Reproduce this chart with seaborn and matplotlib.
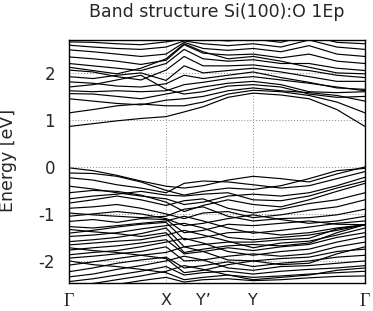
import numpy as np
import pandas as pd
import matplotlib
matplotlib.use("Agg")
import matplotlib.pyplot as plt
import seaborn as sns

# k-path: sample positions (fraction of path length) and high-symmetry labels
K = [0.0, 0.081, 0.162, 0.243, 0.328, 0.389, 0.453, 0.537, 0.622, 0.716, 0.811, 0.905, 1.0]
KLABELS = ["Γ", "X", "Y’", "Y", "Γ"]
KLABEL_POS = [0.0, 0.328, 0.453, 0.622, 1.0]
YTICKS = [-2, -1, 0, 1, 2]

# conduction bands (eV)
CB1 = [0.86, 0.92, 0.98, 1.03, 1.07, 1.17, 1.28, 1.48, 1.57, 1.53, 1.45, 1.22, 0.86]
CB2 = [1.15, 1.22, 1.30, 1.34, 1.30, 1.30, 1.38, 1.55, 1.63, 1.60, 1.52, 1.38, 1.15]
CB3 = [1.45, 1.40, 1.35, 1.32, 1.42, 1.45, 1.50, 1.62, 1.68, 1.62, 1.58, 1.52, 1.40]
CB4 = [1.56, 1.55, 1.50, 1.45, 1.55, 1.62, 1.70, 1.78, 1.82, 1.75, 1.60, 1.58, 1.60]
CB5 = [1.62, 1.60, 1.62, 1.60, 1.62, 1.75, 1.80, 1.88, 1.92, 1.85, 1.78, 1.70, 1.62]
CB6 = [1.81, 1.78, 1.72, 1.70, 1.77, 1.95, 1.88, 1.95, 2.02, 1.90, 1.80, 1.68, 1.65]
CB7 = [1.92, 1.88, 1.95, 2.00, 1.84, 2.15, 2.00, 2.05, 2.10, 2.02, 1.92, 1.82, 1.82]
CB8 = [2.06, 2.02, 1.92, 1.85, 2.06, 2.35, 2.15, 2.15, 2.17, 2.10, 2.05, 1.95, 1.90]
CB9 = [2.20, 2.15, 2.10, 2.05, 2.20, 2.50, 2.30, 2.25, 2.28, 2.20, 2.20, 2.10, 2.05]
CB10 = [2.34, 2.30, 2.25, 2.18, 2.27, 2.60, 2.42, 2.38, 2.40, 2.32, 2.40, 2.25, 2.20]
CB11 = [2.49, 2.45, 2.40, 2.35, 2.40, 2.65, 2.52, 2.48, 2.52, 2.45, 2.58, 2.40, 2.35]
CB12 = [2.59, 2.55, 2.52, 2.50, 2.55, 2.68, 2.62, 2.58, 2.62, 2.55, 2.70, 2.55, 2.50]
CB13 = [2.66, 2.65, 2.62, 2.60, 2.66, 2.72, 2.72, 2.68, 2.72, 2.65, 2.80, 2.65, 2.62]
CB14 = [1.70, 1.75, 1.85, 1.95, 1.65, 1.55, 1.60, 1.72, 1.75, 1.70, 1.55, 1.48, 1.50]
CB15 = [2.12, 2.05, 1.98, 2.10, 2.30, 2.62, 2.45, 2.30, 2.35, 2.25, 2.12, 2.00, 1.98]

# valence bands (eV)
VB1 = [-0.02, -0.08, -0.18, -0.30, -0.41, -0.45, -0.40, -0.28, -0.20, -0.25, -0.32, -0.15, 0.00]
VB2 = [-0.13, -0.14, -0.20, -0.32, -0.50, -0.60, -0.52, -0.45, -0.48, -0.40, -0.25, -0.08, -0.03]
VB3 = [-0.23, -0.28, -0.38, -0.45, -0.55, -0.35, -0.30, -0.32, -0.38, -0.45, -0.40, -0.25, -0.10]
VB4 = [-0.41, -0.47, -0.55, -0.62, -0.68, -0.80, -0.75, -0.62, -0.58, -0.62, -0.55, -0.40, -0.22]
VB5 = [-0.55, -0.50, -0.52, -0.60, -0.75, -0.95, -0.82, -0.70, -0.80, -0.85, -0.70, -0.52, -0.35]
VB6 = [-0.77, -0.70, -0.62, -0.70, -0.82, -0.72, -0.68, -0.88, -0.98, -0.90, -0.78, -0.70, -0.55]
VB7 = [-0.88, -0.85, -0.80, -0.88, -1.00, -1.10, -0.98, -0.95, -1.08, -1.02, -0.92, -0.85, -0.70]
VB8 = [-0.98, -1.02, -1.05, -1.08, -1.05, -0.90, -0.85, -1.05, -1.15, -1.10, -1.08, -1.02, -0.90]
VB9 = [-1.05, -1.00, -0.95, -1.00, -1.10, -1.25, -1.20, -1.10, -1.02, -1.12, -1.20, -1.15, -1.05]
VB10 = [-1.16, -1.12, -1.18, -1.10, -1.12, -1.40, -1.35, -1.22, -1.25, -1.20, -1.15, -1.22, -1.23]
VB11 = [-1.27, -1.30, -1.25, -1.20, -1.15, -1.05, -1.15, -1.30, -1.41, -1.35, -1.28, -1.20, -1.15]
VB12 = [-1.41, -1.35, -1.28, -1.22, -1.18, -1.55, -1.50, -1.40, -1.38, -1.45, -1.40, -1.30, -1.23]
VB13 = [-1.48, -1.45, -1.40, -1.32, -1.25, -1.20, -1.30, -1.50, -1.55, -1.50, -1.45, -1.35, -1.23]
VB14 = [-1.59, -1.55, -1.50, -1.42, -1.30, -1.70, -1.65, -1.60, -1.60, -1.55, -1.52, -1.32, -1.23]
VB15 = [-1.66, -1.62, -1.58, -1.55, -1.45, -1.35, -1.45, -1.58, -1.72, -1.62, -1.58, -1.45, -1.30]
VB16 = [-1.77, -1.72, -1.68, -1.62, -1.55, -1.85, -1.80, -1.72, -1.78, -1.70, -1.65, -1.50, -1.40]
VB17 = [-1.87, -1.82, -1.78, -1.70, -1.60, -1.52, -1.62, -1.80, -1.88, -1.80, -1.75, -1.60, -1.48]
VB18 = [-1.94, -1.90, -1.85, -1.80, -1.70, -2.00, -1.98, -1.90, -1.85, -1.90, -1.85, -1.70, -1.60]
VB19 = [-2.09, -2.02, -1.95, -1.88, -1.82, -1.70, -1.80, -1.98, -2.00, -1.95, -1.92, -1.80, -1.75]
VB20 = [-2.23, -2.15, -2.05, -1.98, -1.92, -2.15, -2.10, -2.02, -2.12, -2.05, -2.00, -1.92, -1.88]
VB21 = [-2.34, -2.28, -2.18, -2.10, -2.00, -1.90, -1.98, -2.15, -2.20, -2.12, -2.10, -2.05, -2.00]
VB22 = [-2.44, -2.38, -2.30, -2.22, -2.12, -2.30, -2.25, -2.22, -2.28, -2.22, -2.18, -2.15, -2.10]
VB23 = [-2.55, -2.48, -2.40, -2.32, -2.22, -2.10, -2.18, -2.30, -2.35, -2.32, -2.28, -2.25, -2.22]
VB24 = [-2.60, -2.55, -2.50, -2.42, -2.35, -2.45, -2.40, -2.38, -2.42, -2.40, -2.36, -2.33, -2.32]
VB25 = [-0.68, -0.62, -0.58, -0.52, -0.60, -0.62, -0.58, -0.55, -0.70, -0.72, -0.62, -0.45, -0.30]
VB26 = [-1.33, -1.38, -1.42, -1.48, -1.40, -1.82, -1.75, -1.68, -1.65, -1.68, -1.62, -1.40, -1.23]
VB27 = [-1.72, -1.78, -1.82, -1.88, -1.95, -2.25, -2.20, -2.08, -2.00, -2.08, -2.05, -1.85, -1.70]
VB28 = [-2.00, -2.08, -2.12, -2.18, -2.25, -2.40, -2.35, -2.30, -2.40, -2.35, -2.30, -2.20, -2.15]

BANDS = [CB1, CB2, CB3, CB4, CB5, CB6, CB7, CB8, CB9, CB10, CB11, CB12, CB13, CB14, CB15,
         VB1, VB2, VB3, VB4, VB5, VB6, VB7, VB8, VB9, VB10, VB11, VB12, VB13, VB14,
         VB15, VB16, VB17, VB18, VB19, VB20, VB21, VB22, VB23, VB24, VB25, VB26,
         VB27, VB28]

rows = []
for i, b in enumerate(BANDS):
    for k, e in zip(K, b):
        rows.append({"band": i, "k": k, "E": e})
df = pd.DataFrame(rows)

sns.set_theme(style="white")
plt.rcParams["font.family"] = ["DejaVu Sans"]

fig = plt.figure(figsize=(3.73, 3.11), dpi=100)
ax = fig.add_axes([69 / 373, 28 / 311, 296 / 373, 243 / 311])

for yv in YTICKS:
    ax.axhline(yv, color="#888888", lw=0.7, ls=(0, (1, 2)), zorder=0)
for xv in KLABEL_POS[1:4:2]:
    ax.axvline(xv, color="#888888", lw=0.7, ls=(0, (1, 2)), zorder=0)

sns.lineplot(data=df, x="k", y="E", units="band", estimator=None,
             color="black", lw=0.85, ax=ax, legend=False, sort=False)

ax.set_xlim(0, 1)
ax.set_ylim(-2.47, 2.7)
ax.set_yticks(YTICKS)
ax.set_yticklabels([str(v) for v in YTICKS], fontsize=12)
ax.set_xticks(KLABEL_POS)
ax.set_xticklabels(KLABELS, fontsize=11.5)
for lab in ax.get_xticklabels():
    if lab.get_text() == "Γ":
        lab.set_family(["Liberation Serif", "DejaVu Serif"])
        lab.set_fontsize(13)
ax.tick_params(axis="both", length=0)
ax.tick_params(axis="x", pad=7)
ax.tick_params(axis="y", pad=10)
ax.set_xlabel("")
ax.set_ylabel("")
for s in ax.spines.values():
    s.set_color("black")
    s.set_linewidth(1.0)

fig.text(8.5 / 373, 1 - 160.5 / 311, "Energy [eV]", rotation=90,
         ha="center", va="center", fontsize=12.5)
fig.text(217 / 373, 1 - 12 / 311, "Band structure Si(100):O 1Ep",
         ha="center", va="center", fontsize=12.5)

fig.savefig("out.png", dpi=100)
